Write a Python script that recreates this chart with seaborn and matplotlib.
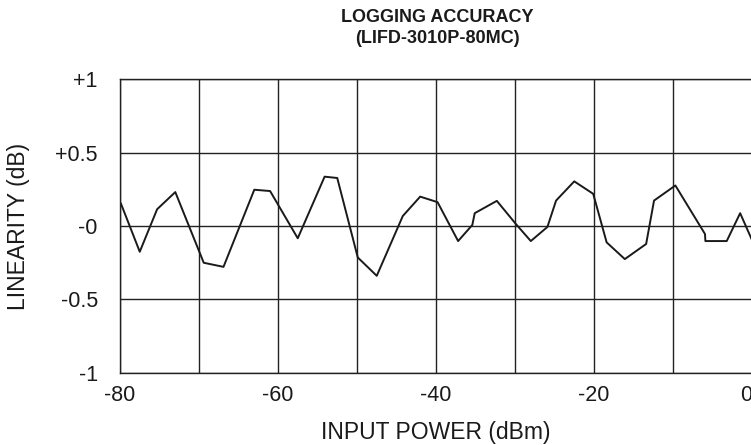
import numpy as np
import pandas as pd
import seaborn as sns
import matplotlib.pyplot as plt

# input power (dBm) and linearity error (dB)
power_dbm = [-79.9, -77.5, -75.3, -73.0, -69.4, -66.9, -63.0, -61.0, -57.5, -54.1,
             -52.5, -49.9, -47.5, -44.2, -42.0, -39.8, -37.2, -35.4, -35.1, -32.3,
             -29.9, -28.0, -25.9, -24.8, -22.5, -20.1, -18.4, -16.1, -13.4, -12.4,
             -9.7, -5.95, -5.9, -3.2, -1.5, 0.0]
linearity_db = [0.155, -0.176, 0.114, 0.231, -0.251, -0.279, 0.247, 0.238, -0.084, 0.336,
                0.327, -0.215, -0.340, 0.068, 0.200, 0.162, -0.103, 0.007, 0.087, 0.171,
                0.014, -0.103, -0.007, 0.173, 0.304, 0.219, -0.112, -0.226, -0.123, 0.173,
                0.276, -0.055, -0.103, -0.103, 0.087, -0.096]

x_ticks = [-80, -70, -60, -50, -40, -30, -20, -10, 0]
x_labels = ['-80', '', '-60', '', '-40', '', '-20', '', '0']
y_ticks = [-1, -0.5, 0, 0.5, 1]
y_labels = ['-1', '-0.5', '-0', '+0.5', '+1']

sns.set_style('white')
plt.rcParams['font.family'] = ['Liberation Sans', 'DejaVu Sans']

df = pd.DataFrame({'power': power_dbm, 'lin': linearity_db})

fig = plt.figure(figsize=(7.51, 4.45), dpi=100)
ax = fig.add_axes([120 / 751, 72.4 / 445, 632 / 751, 293.3 / 445])

sns.lineplot(x='power', y='lin', data=df, ax=ax, color='#1a1a1a', linewidth=1.4, sort=False)

ax.set_xlim(-80, 0)
ax.set_ylim(-1, 1)
ax.set_xticks(x_ticks)
ax.set_xticklabels(x_labels)
ax.set_yticks(y_ticks)
ax.set_yticklabels(y_labels)
ax.grid(True, color='#222222', linewidth=1.0)
for s in ax.spines.values():
    s.set_color('#222222')
    s.set_linewidth(1.0)
ax.tick_params(axis='both', length=0, labelsize=15.5, colors='#1a1a1a')
ax.tick_params(axis='x', pad=9)
ax.tick_params(axis='y', pad=16)
# last label sits against the right edge
ax.get_xticklabels()[-1].set_horizontalalignment('right')

ax.set_xlabel('INPUT POWER (dBm)', fontsize=16.5, color='#1a1a1a', labelpad=11)
ax.set_ylabel('LINEARITY (dB)', fontsize=16.5, color='#1a1a1a', labelpad=18)

fig.text(437 / 751, 1 - 28 / 445, 'LOGGING ACCURACY\n(LIFD-3010P-80MC)', ha='center', va='center',
         fontsize=13, fontweight='bold', linespacing=1.3, color='#1a1a1a')

plt.savefig('out.png', dpi=100)
